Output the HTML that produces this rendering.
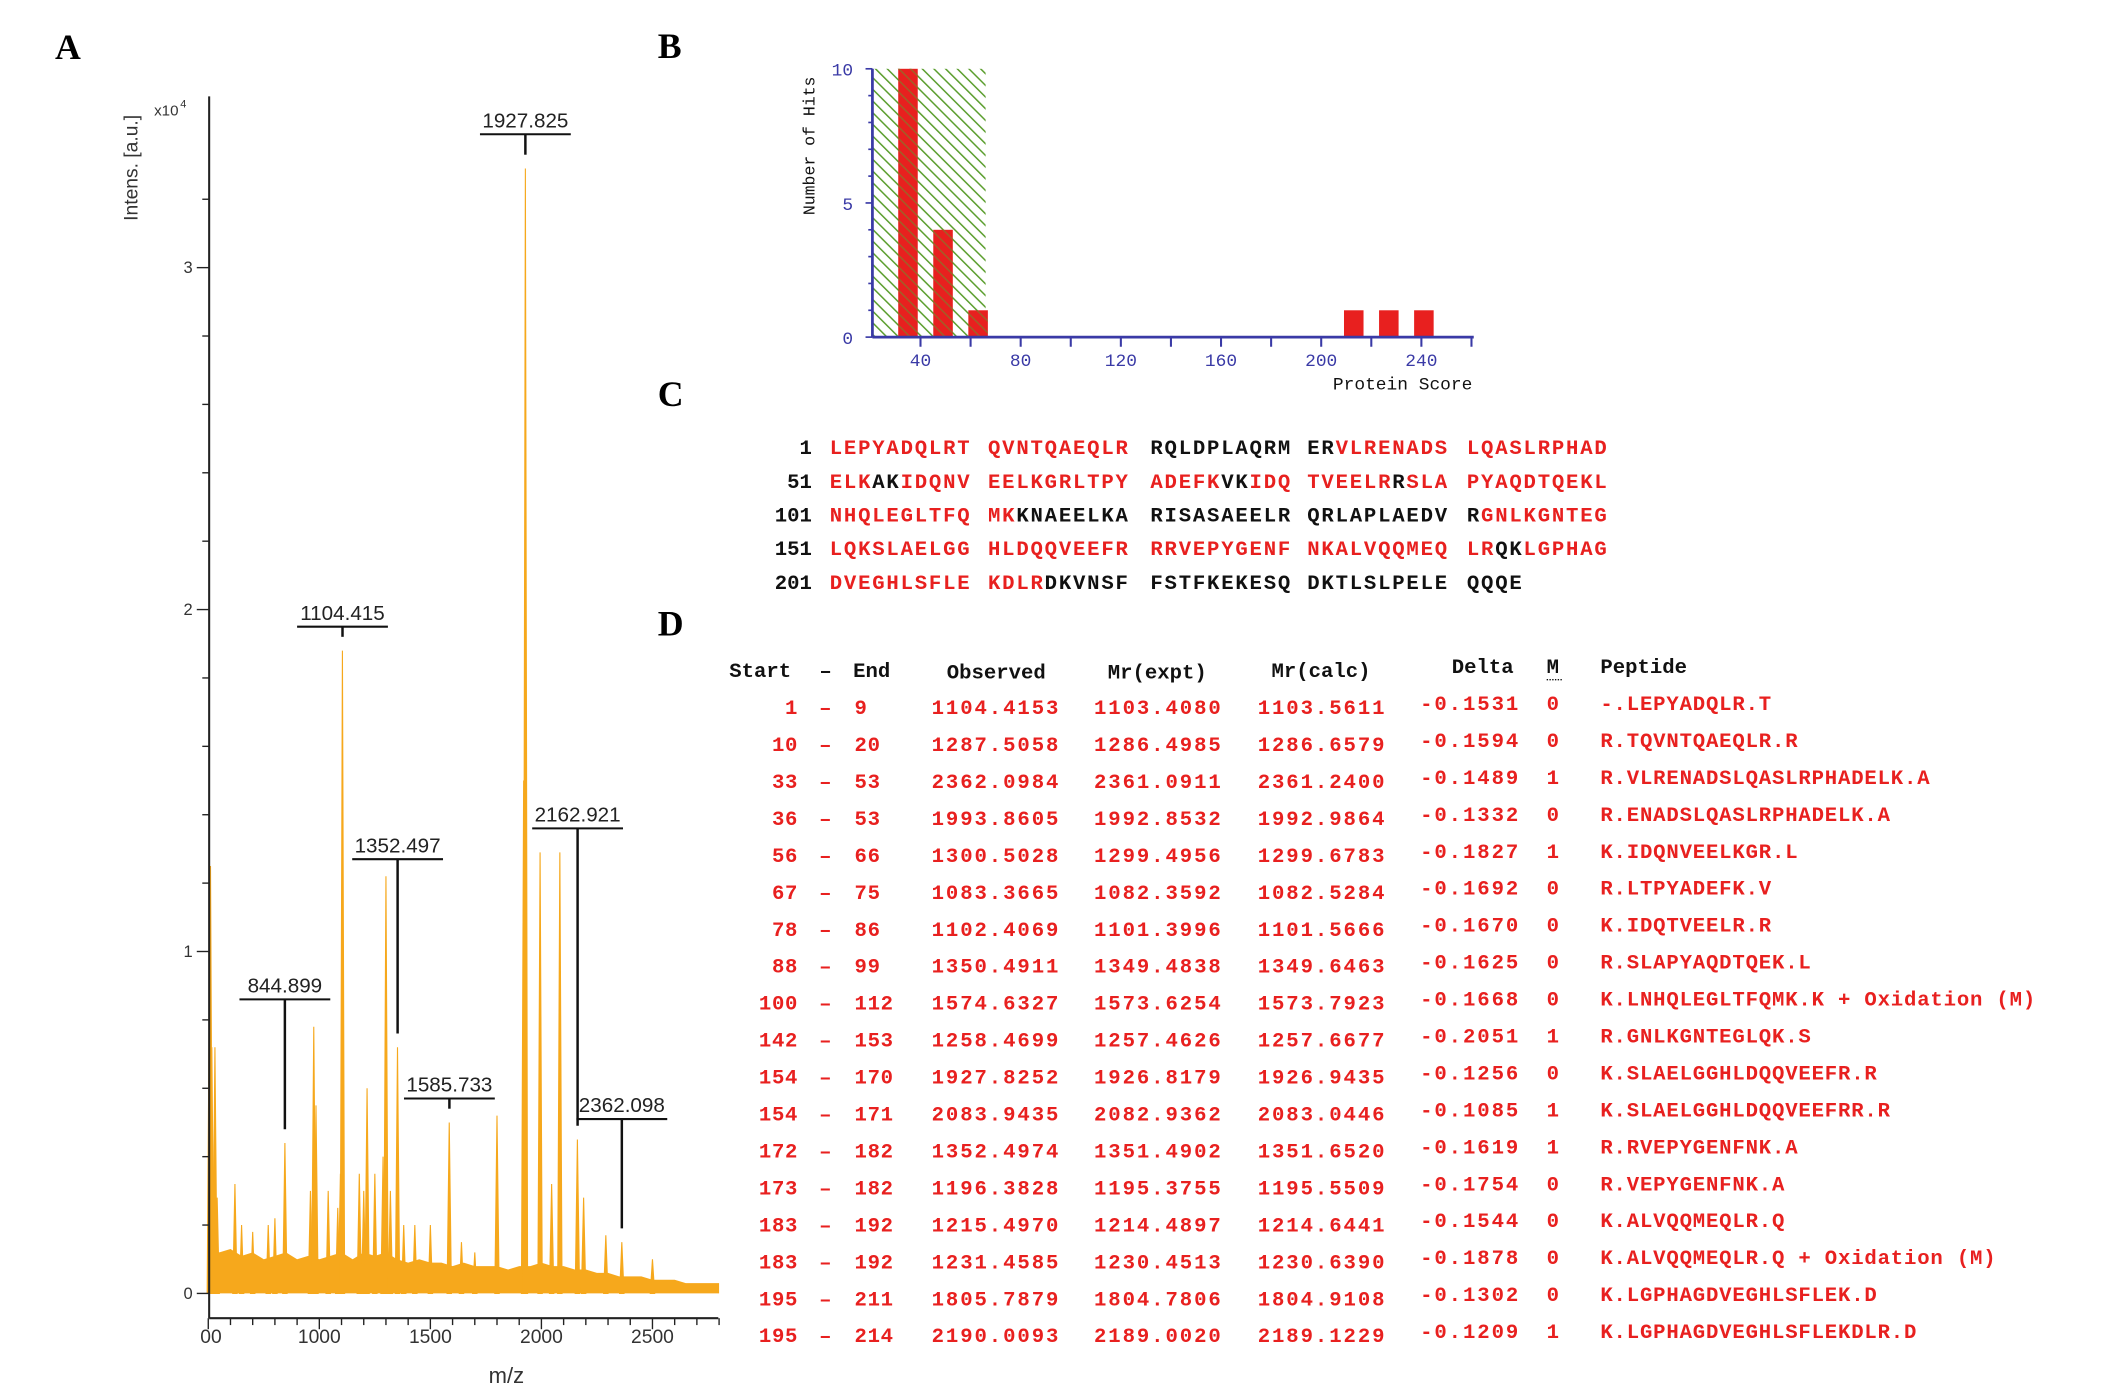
<!DOCTYPE html>
<html><head><meta charset="utf-8"><style>
html,body{margin:0;padding:0;background:#fff;overflow:hidden}
svg{display:block}
.mono{font-family:"Liberation Mono",monospace;font-weight:bold}
</style></head><body>
<svg id="fig" width="2126" height="1387" viewBox="0 0 1545 1008" preserveAspectRatio="none" xmlns="http://www.w3.org/2000/svg">
<defs>
<pattern id="hatch" patternUnits="userSpaceOnUse" width="6" height="6" patternTransform="rotate(-45)">
<rect width="6" height="6" fill="#fff" fill-opacity="0"/>
<line x1="0" y1="0" x2="0" y2="6" stroke="#5b9e2e" stroke-width="2.2"/>
</pattern>
</defs>
<g font-family="Liberation Serif,serif" font-weight="bold" font-size="26" fill="#000">
<text x="40" y="43">A</text>
<text x="478" y="42">B</text>
<text x="478" y="295">C</text>
<text x="478" y="462">D</text>
</g>
<g id="specA"></g>
<g id="histB"></g>
<g id="seqC"></g>
<g id="tabD"></g>
</svg>
<script>
// ---------- Panel A data ----------
const peakMz = [505,510,516,530,540,620,650,700,770,800,845,960,975,985,1040,1083,1095,1104,1180,1200,1215,1250,1287,1300,1320,1352,1380,1430,1500,1585,1640,1700,1800,1920,1927.8,1994,2046,2083,2162,2190,2290,2362,2500];
const peakInt = [0.9,1.25,0.72,0.72,0.28,0.32,0.2,0.18,0.2,0.22,0.44,0.3,0.78,0.55,0.3,0.25,0.35,1.88,0.35,0.3,0.6,0.35,0.4,1.22,0.3,0.72,0.2,0.2,0.2,0.5,0.15,0.12,0.52,1.5,3.29,1.29,0.32,1.29,0.45,0.28,0.17,0.15,0.1];
const noiseMz = [500,550,600,650,700,750,800,850,900,950,1000,1050,1100,1150,1200,1250,1300,1350,1400,1450,1500,1550,1600,1650,1700,1750,1800,1850,1900,1950,2000,2050,2100,2150,2200,2250,2300,2350,2400,2450,2500,2550,2600,2650,2700,2750,2800];
const noiseInt = [0.14,0.12,0.13,0.11,0.12,0.1,0.11,0.12,0.1,0.11,0.1,0.11,0.12,0.1,0.12,0.11,0.12,0.1,0.09,0.1,0.09,0.09,0.08,0.09,0.08,0.08,0.08,0.07,0.08,0.08,0.09,0.08,0.08,0.07,0.07,0.06,0.06,0.05,0.05,0.05,0.04,0.04,0.04,0.03,0.03,0.03,0.03];
const xTicksA = [500,1000,1500,2000,2500];
const xTickLabelsA = ["00","1000","1500","2000","2500"];
const yTicksA = [0,1,2,3];
const peakLabels = ["1927.825","1104.415","1352.497","844.899","1585.733","2162.921","2362.098"];
const peakLabelMz = [1927.8,1104.4,1352.5,844.9,1585.7,2162.9,2362.1];
const peakLabelInt = [3.29,1.88,0.72,0.44,0.5,0.45,0.15];
const peakLabelLevel = [3.39,1.95,1.27,0.86,0.57,1.36,0.51];

// ---------- Panel B data ----------
const scoreBins = [35,49,63,213,227,241];
const hitCounts = [10,4,1,1,1,1];
const xTicksB = [40,80,120,160,200,240];
const yTicksB = [0,5,10];
const thresholdScore = 66;

const NS="http://www.w3.org/2000/svg";
function mk(tag,attrs,parent,txt){const e=document.createElementNS(NS,tag);for(const k in attrs)e.setAttribute(k,attrs[k]);if(txt!==undefined)e.textContent=txt;parent.appendChild(e);return e;}

// ----- A -----
(function(){
const g=document.getElementById('specA');
const X0=152,MZ0=504,PX=80.7/500,Y0=940,PY=248.5;
const xs=m=>X0+(m-MZ0)*PX, ys=v=>Y0-v*PY;
let d="M"+xs(noiseMz[0])+","+ys(0);
noiseMz.forEach((m,i)=>{d+=" L"+xs(m)+","+ys(noiseInt[i]);});
d+=" L"+xs(noiseMz[noiseMz.length-1])+","+ys(0)+" Z";
let e=mk('path',{d:d,fill:"#f6a81c"},g);

peakMz.forEach((m,i)=>{
 const x=xs(m);
 const p=mk('path',{d:`M${x-1.6},${ys(0)} L${x},${ys(peakInt[i])} L${x+1.6},${ys(0)} Z`,fill:"#f6a81c",stroke:"#f6a81c","stroke-width":"0.8"},g);
 
});
e=mk('line',{x1:152,y1:70,x2:152,y2:958,stroke:"#222","stroke-width":1.5},g);

e=mk('line',{x1:152,y1:958,x2:522,y2:958,stroke:"#222","stroke-width":1.5},g);

for(let v=0;v<=3.4;v+=0.2){const y=ys(v);const maj=Math.abs(v-Math.round(v))<0.01;mk('line',{x1:maj?143:147,y1:y,x2:152,y2:y,stroke:"#222","stroke-width":1},g);}
yTicksA.forEach(v=>{const t=mk('text',{x:140,y:ys(v)+4,"font-family":"Liberation Sans,sans-serif","font-size":12,"text-anchor":"end",fill:"#333"},g,String(v));});
for(let m=500;m<=2800;m+=100){const x=xs(m);mk('line',{x1:x,y1:958,x2:x,y2:m%500===0?966:963,stroke:"#222","stroke-width":1},g);}
xTicksA.forEach((m,i)=>{const t=mk('text',{x:xs(m)+(i===0?2:0),y:976,"font-family":"Liberation Sans,sans-serif","font-size":14,"text-anchor":"middle",fill:"#333"},g,xTickLabelsA[i]);});
let t=mk('text',{x:368,y:1005,"font-family":"Liberation Sans,sans-serif","font-size":16,"text-anchor":"middle",fill:"#333"},g,"m/z");
t=mk('text',{x:0,y:0,transform:"translate(100,122) rotate(-90)","font-family":"Liberation Sans,sans-serif","font-size":14,"text-anchor":"middle",fill:"#333"},g,"Intens. [a.u.]");
t=mk('text',{x:112,y:84,"font-family":"Liberation Sans,sans-serif","font-size":11,fill:"#333"},g,"x10");
mk('text',{x:131,y:78,"font-family":"Liberation Sans,sans-serif","font-size":8,fill:"#333"},g,"4");
peakLabels.forEach((s,i)=>{
 const x=xs(peakLabelMz[i]),yl=ys(peakLabelLevel[i]);
 const lbl=mk('text',{x:x,y:yl-5,"font-family":"Liberation Sans,sans-serif","font-size":15,"text-anchor":"middle",fill:"#222"},g,s);
 
 mk('line',{x1:x-33,y1:yl,x2:x+33,y2:yl,stroke:"#111","stroke-width":1.5},g);
 mk('line',{x1:x,y1:yl,x2:x,y2:Math.max(yl+4,ys(peakLabelInt[i])-10),stroke:"#111","stroke-width":1.8},g);
});
})();

// ----- B -----
(function(){
const g=document.getElementById('histB');
const X0=634,S0=20.8,PX=72.8/40,Y0=245,PY=19.5;
const xs=s=>X0+(s-S0)*PX, ys=v=>Y0-v*PY;
let e=mk('rect',{x:X0,y:ys(10),width:xs(thresholdScore)-X0,height:ys(0)-ys(10),fill:"url(#hatch)"},g);

scoreBins.forEach((s,i)=>{
 const b=mk('rect',{x:xs(s-3.9),y:ys(hitCounts[i]),width:7.8*PX,height:ys(0)-ys(hitCounts[i]),fill:"#e8201f"},g);
 
 if(s<thresholdScore){mk('rect',{x:xs(s-3.9),y:ys(hitCounts[i]),width:7.8*PX,height:ys(0)-ys(hitCounts[i]),fill:"url(#hatch)","fill-opacity":0.5},g);}
});
const ax="#3a3aa6";
e=mk('line',{x1:X0,y1:50,x2:X0,y2:Y0,stroke:ax,"stroke-width":2},g);
e=mk('line',{x1:X0,y1:Y0,x2:1071,y2:Y0,stroke:ax,"stroke-width":2},g);
for(let v=0;v<=10;v++){mk('line',{x1:X0-(v%5===0?5:3),y1:ys(v),x2:X0,y2:ys(v),stroke:ax,"stroke-width":1.2},g);}
for(let s=20;s<=260;s+=20){const x=xs(s);if(x<X0-1)continue;mk('line',{x1:x,y1:Y0,x2:x,y2:Y0+7,stroke:ax,"stroke-width":1.5},g);}
yTicksB.forEach(v=>{const t=mk('text',{x:X0-14,y:ys(v)+5,"font-family":"Liberation Mono,monospace","font-size":13,"text-anchor":"end",fill:ax},g,String(v));});
xTicksB.forEach(v=>{const t=mk('text',{x:xs(v),y:266,"font-family":"Liberation Mono,monospace","font-size":13,"text-anchor":"middle",fill:ax},g,String(v));});
let t=mk('text',{x:1070,y:283,"font-family":"Liberation Mono,monospace","font-size":13,"text-anchor":"end",fill:"#111"},g,"Protein Score");
t=mk('text',{x:0,y:0,transform:"translate(592,106) rotate(-90)","font-family":"Liberation Mono,monospace","font-size":12,"text-anchor":"middle",fill:"#111"},g,"Number of Hits");
})();

// ----- C -----
(function(){
const g=document.getElementById('seqC');
const R="#e8201f",K="#111";
const rows=[
 ["1",[[["LEPYADQLRT",R]],[["QVNTQAEQLR",R]],[["RQLDPLAQRM",K]],[["ER",K],["VLRENADS",R]],[["LQASLRPHAD",R]]]],
 ["51",[[["ELK",R],["AK",K],["IDQNV",R]],[["EELKGRLTPY",R]],[["ADEFK",R],["VK",K],["IDQ",R]],[["TVEELR",R],["R",K],["SLA",R]],[["PYAQDTQEKL",R]]]],
 ["101",[[["NHQLEGLTFQ",R]],[["MK",R],["KNAEELKA",K]],[["RISASAEELR",K]],[["QRLAPLAEDV",K]],[["R",K],["GNLKGNTEG",R]]]],
 ["151",[[["LQKSLAELGG",R]],[["HLDQQVEEFR",R]],[["RRVEPYGENF",R]],[["NKALVQQMEQ",R]],[["LR",R],["QK",K],["LGPHAG",R]]]],
 ["201",[[["DVEGHLSFLE",R]],[["KDLR",R],["DKVNSF",K]],[["FSTFKEKESQ",K]],[["DKTLSLPELE",K]],[["QQQE",K]]]]
];
const gx=[603,718,836,950,1066];
rows.forEach((r,i)=>{
 const y=330+i*24.5;
 const n=mk('text',{x:590,y:y,"text-anchor":"end","font-size":15,fill:K,class:"mono"},g,r[0]);
 
 r[1].forEach((grp,j)=>{
  const t=mk('text',{x:gx[j],y:y,"font-size":15,"letter-spacing":"1.3",class:"mono"},g);
  
  grp.forEach(([s,c])=>{mk('tspan',{fill:c},t,s);});
 });
});
})();

// ----- D -----
(function(){
const g=document.getElementById('tabD');
const R="#e8201f";
const data=[
["1","9","1104.4153","1103.4080","1103.5611","-0.1531","0","-.LEPYADQLR.T"],
["10","20","1287.5058","1286.4985","1286.6579","-0.1594","0","R.TQVNTQAEQLR.R"],
["33","53","2362.0984","2361.0911","2361.2400","-0.1489","1","R.VLRENADSLQASLRPHADELK.A"],
["36","53","1993.8605","1992.8532","1992.9864","-0.1332","0","R.ENADSLQASLRPHADELK.A"],
["56","66","1300.5028","1299.4956","1299.6783","-0.1827","1","K.IDQNVEELKGR.L"],
["67","75","1083.3665","1082.3592","1082.5284","-0.1692","0","R.LTPYADEFK.V"],
["78","86","1102.4069","1101.3996","1101.5666","-0.1670","0","K.IDQTVEELR.R"],
["88","99","1350.4911","1349.4838","1349.6463","-0.1625","0","R.SLAPYAQDTQEK.L"],
["100","112","1574.6327","1573.6254","1573.7923","-0.1668","0","K.LNHQLEGLTFQMK.K + Oxidation (M)"],
["142","153","1258.4699","1257.4626","1257.6677","-0.2051","1","R.GNLKGNTEGLQK.S"],
["154","170","1927.8252","1926.8179","1926.9435","-0.1256","0","K.SLAELGGHLDQQVEEFR.R"],
["154","171","2083.9435","2082.9362","2083.0446","-0.1085","1","K.SLAELGGHLDQQVEEFRR.R"],
["172","182","1352.4974","1351.4902","1351.6520","-0.1619","1","R.RVEPYGENFNK.A"],
["173","182","1196.3828","1195.3755","1195.5509","-0.1754","0","R.VEPYGENFNK.A"],
["183","192","1215.4970","1214.4897","1214.6441","-0.1544","0","K.ALVQQMEQLR.Q"],
["183","192","1231.4585","1230.4513","1230.6390","-0.1878","0","K.ALVQQMEQLR.Q + Oxidation (M)"],
["195","211","1805.7879","1804.7806","1804.9108","-0.1302","0","K.LGPHAGDVEGHLSFLEK.D"],
["195","214","2190.0093","2189.0020","2189.1229","-0.1209","1","K.LGPHAGDVEGHLSFLEKDLR.D"]];
const hdr=[["Start",530,"start",492],["–",600,"middle",492],["End",620,"start",492],["Observed",688,"start",493],["Mr(expt)",805,"start",493],["Mr(calc)",924,"start",492],["Delta",1055,"start",489],["M",1124,"start",489],["Peptide",1163,"start",489]];
hdr.forEach(h=>{const t=mk('text',{x:h[1],y:h[3],"text-anchor":h[2],"font-size":15,fill:"#111",class:"mono"},g,h[0]);});
mk('line',{x1:1124,y1:494,x2:1136,y2:494,stroke:"#111","stroke-width":1,"stroke-dasharray":"1,1"},g);
data.forEach((r,i)=>{
 const y=519+i*26.85;
 const row=mk('g',{},g);
 const cells=[[r[0],580,"end"],["–",600,"middle"],[r[1],621,"start"],[r[2],677,"start"],[r[3],795,"start"],[r[4],914,"start"],[r[5],1032,"start"],[r[6],1124,"start"],[r[7],1163,"start"]];
 cells.forEach((c,j)=>{const ls=j===8?"0.6":(j>=3&&j<=6?"1.4":"0.5");mk('text',{x:c[1],y:j>=6?y-3:y,"text-anchor":c[2],"font-size":15,"letter-spacing":ls,fill:R,class:"mono"},row,c[0]);});
});
})();
</script>
</body></html>
